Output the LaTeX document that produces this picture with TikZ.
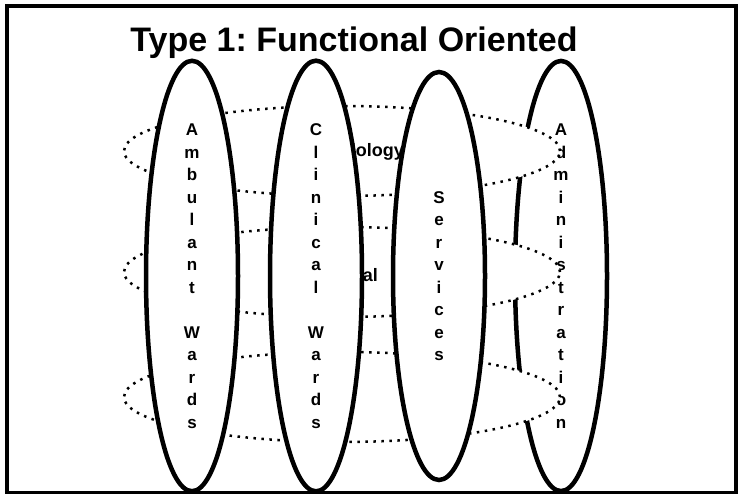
\documentclass[tikz,border=0pt]{standalone}
\usepackage{fontspec}
\setmainfont{Liberation Sans}
\usetikzlibrary{shapes.geometric}
\frenchspacing
\begin{document}
\begin{tikzpicture}[x=1pt,y=-1pt,
  column/.style={ellipse, draw=black, fill=white, line width=4.5pt,
    minimum width=92pt, minimum height=408pt, inner sep=0pt, align=center,
    font=\fontsize{17}{22.5}\selectfont\bfseries},
  process/.style={ellipse, draw=black, fill=white, line width=2.5pt,
    dash pattern=on 2.5pt off 5.5pt, minimum width=436pt, minimum height=90pt,
    inner sep=0pt},
  proclabel/.style={anchor=base east, inner sep=0pt,
    font=\fontsize{18}{21}\selectfont\bfseries},
  heading/.style={anchor=base, inner sep=0pt,
    font=\fontsize{34}{40}\selectfont\bfseries}]
\useasboundingbox (0,0) rectangle (738,494);

% outer frame
\draw[line width=4pt] (6.5,6) rectangle (736,492.5);

% title
\node[heading] (title) at (354,52) {Type 1: Functional Oriented};

% administration column lies behind the process rings
\node[column] (adm) at (561,276) {A\\d\\m\\i\\n\\i\\s\\t\\r\\a\\t\\i\\o\\n};

% horizontal process rings
\node[process] (radiology) at (342,151) {};
\node[process] (surgical)  at (342,272) {};
\node[process] (third)     at (342,397) {};
\node[proclabel] (radlabel) at (404,157) {Radiology};
\node[proclabel] (surlabel) at (378,281) {Surgical};

% front columns
\node[column] (amb) at (192,276) {A\\m\\b\\u\\l\\a\\n\\t\\[22.5pt]W\\a\\r\\d\\s};
\node[column] (cli) at (316,276) {C\\l\\i\\n\\i\\c\\a\\l\\[22.5pt]W\\a\\r\\d\\s};
\node[column] (srv) at (439,276) {S\\e\\r\\v\\i\\c\\e\\s};
\end{tikzpicture}
\end{document}
